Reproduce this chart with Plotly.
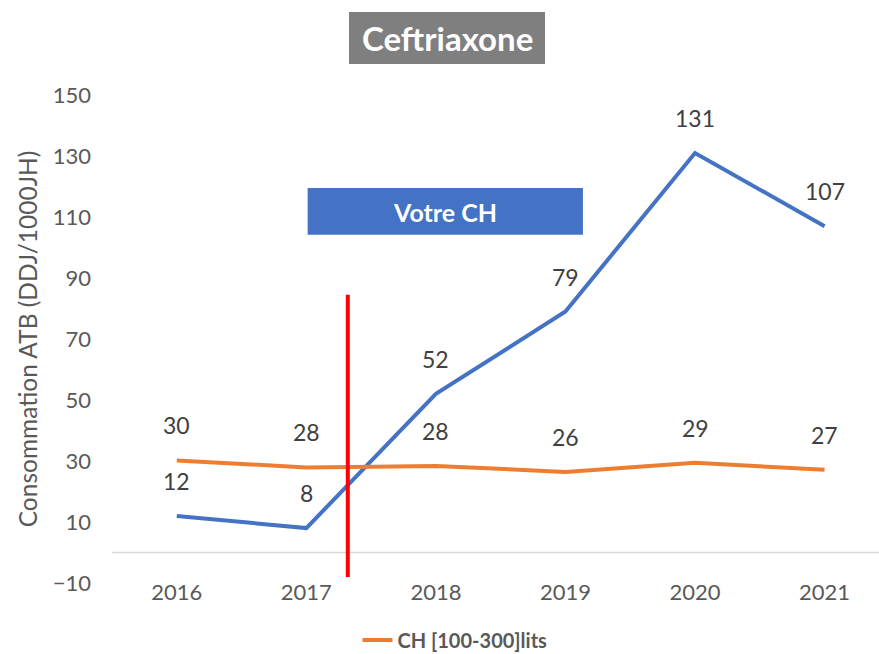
import plotly.graph_objects as go

years = ["2016", "2017", "2018", "2019", "2020", "2021"]
votre_ch = [12, 8, 52, 79, 131, 107]
ch_100_300 = [30.2, 27.9, 28.4, 26.4, 29.4, 27.1]
votre_labels = ["12", "8", "52", "79", "131", "107"]
ch_labels = ["30", "28", "28", "26", "29", "27"]
y_ticks = [-10, 10, 30, 50, 70, 90, 110, 130, 150]

BLUE = "#4472c4"
ORANGE = "#ed7d31"
GREY_TXT = "#595959"
LABEL_TXT = "#404040"
FONT = "Lato, Carlito, 'Open Sans', sans-serif"

W, H = 879, 654
L = 112

def px_x(p):
    return (p - L) / (W - L)

def px_y(p):
    return (H - p) / H

fig = go.Figure()
fig.add_trace(go.Scatter(x=list(range(len(years))), y=votre_ch, mode="lines",
                         line=dict(color=BLUE, width=4), name="Votre CH",
                         showlegend=False, hoverinfo="skip"))
fig.add_trace(go.Scatter(x=list(range(len(years))), y=ch_100_300, mode="lines",
                         line=dict(color=ORANGE, width=4), name="<b>CH [100-300]lits</b>",
                         showlegend=True, hoverinfo="skip"))

blue_shift = [35, 35, 35, 35, 35, 35]
orange_shift = [35, 35, 35, 35, 35, 35]
for i, (v, t) in enumerate(zip(votre_ch, votre_labels)):
    fig.add_annotation(x=i, y=v, text=t, showarrow=False, yshift=blue_shift[i],
                       font=dict(size=23, color=LABEL_TXT, family=FONT))
for i, (v, t) in enumerate(zip(ch_100_300, ch_labels)):
    fig.add_annotation(x=i, y=v, text=t, showarrow=False, yshift=orange_shift[i],
                       font=dict(size=23, color=LABEL_TXT, family=FONT))

# horizontal zero line
fig.add_shape(type="line", xref="paper", yref="y", x0=0, x1=1, y0=0, y1=0,
              line=dict(color="#d9d9d9", width=1.5), layer="below")

# red vertical marker
fig.add_shape(type="line", xref="x", yref="y", x0=1.32, x1=1.32, y0=-8, y1=84.5,
              line=dict(color="#ff0000", width=4))

# "Votre CH" box
fig.add_shape(type="rect", xref="x", yref="y", x0=1.01, x1=3.135, y0=104.2, y1=119.5,
              fillcolor=BLUE, line=dict(width=0))
fig.add_annotation(x=(1.01 + 3.135) / 2, y=111.8, xref="x", yref="y", text="<b>Votre CH</b>",
                   showarrow=False, yanchor="middle",
                   font=dict(size=25, color="white", family=FONT))

# Title box
fig.add_shape(type="rect", xref="paper", yref="paper", x0=px_x(349), x1=px_x(545),
              y0=px_y(64), y1=px_y(12), fillcolor="#7f7f7f", line=dict(width=0))
fig.add_annotation(xref="paper", yref="paper", x=px_x(447), y=px_y(38),
                   xanchor="center", yanchor="middle",
                   text="<b>Ceftriaxone</b>", showarrow=False,
                   font=dict(size=33, color="white", family=FONT))

fig.update_layout(
    width=W, height=H,
    margin=dict(l=L, r=0, t=0, b=0, autoexpand=False),
    plot_bgcolor="white", paper_bgcolor="white",
    font=dict(family=FONT, color=GREY_TXT),
    showlegend=True,
    legend=dict(orientation="h", x=px_x(455), xanchor="center", y=px_y(640), yanchor="middle",
                font=dict(size=20, color=GREY_TXT, family=FONT),
                bgcolor="rgba(0,0,0,0)"),
    xaxis=dict(tickmode="array", tickvals=list(range(len(years))), ticktext=years,
               range=[-0.5, 5.42], showgrid=False, zeroline=False, showline=False,
               ticks="", anchor="free", position=px_y(577),
               tickfont=dict(size=22, color=GREY_TXT, family=FONT)),
    yaxis=dict(range=[-10, 150], tickvals=y_ticks, domain=[px_y(583), px_y(95)],
               showgrid=False, zeroline=False, showline=False, ticks="",
               ticklabelstandoff=20,
               tickfont=dict(size=22, color=GREY_TXT, family=FONT),
               title=dict(text="Consommation ATB (DDJ/1000JH)", standoff=8,
                          font=dict(size=24.5, color=GREY_TXT, family=FONT))),
)

fig.write_html("out.html", config={"displayModeBar": False},
               post_script="document.body.style.margin='0';document.body.style.overflow='hidden';")
